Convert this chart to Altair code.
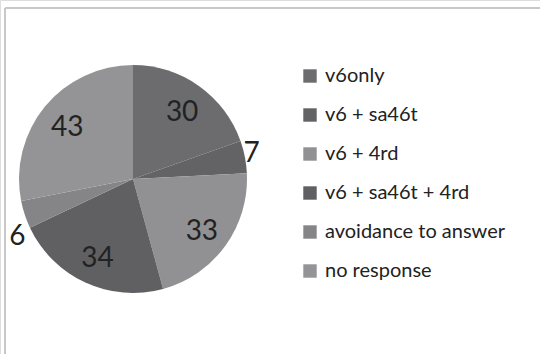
import altair as alt
import pandas as pd

categories = ["v6only", "v6 + sa46t", "v6 + 4rd", "v6 + sa46t + 4rd", "avoidance to answer", "no response"]
values = [30, 7, 33, 34, 6, 43]
colors = ["#6c6c6e", "#636365", "#919193", "#606062", "#858587", "#949496"]
inside = [True, False, True, True, False, True]

df = pd.DataFrame({
    "category": categories,
    "value": values,
    "order": list(range(len(categories))),
    "inside": inside,
    "label": [str(v) for v in values],
})

CX, CY, R = 133, 179, 114
FONT = "Lato"

base = alt.Chart(df).transform_calculate(
    lab_in="datum.inside ? datum.label : ''",
    lab_7="datum.category == 'v6 + sa46t' ? datum.label : ''",
    lab_6="datum.category == 'avoidance to answer' ? datum.label : ''",
).encode(
    theta=alt.Theta("value:Q", stack=True),
    order=alt.Order("order:Q"),
    x=alt.value(CX),
    y=alt.value(CY),
)

color_enc = alt.Color(
    "category:N",
    scale=alt.Scale(domain=categories, range=colors),
    sort=categories,
    legend=alt.Legend(
        title=None,
        orient="none",
        legendX=300,
        legendY=66,
        symbolType="square",
        symbolSize=180,
        symbolStrokeWidth=0,
        labelFont=FONT,
        labelFontSize=20,
        labelColor="#222222",
        labelLimit=400,
        rowPadding=19,
        labelOffset=5,
        symbolOpacity=1,
    ),
)

pie = base.mark_arc(outerRadius=R, stroke=None).encode(color=color_enc)

text_in = base.mark_text(
    radius=85, font=FONT, fontSize=28, color="#222222", dy=3
).encode(text="lab_in:N")

text_7 = base.mark_text(
    radius=122, font=FONT, fontSize=28, color="#222222", dy=-1, dx=-1
).encode(text="lab_7:N")

text_6 = base.mark_text(
    radius=125, font=FONT, fontSize=28, color="#222222", dy=19, dx=3
).encode(text="lab_6:N")

frame = pd.DataFrame({"d": [0]})
left_line = alt.Chart(frame).mark_rule(color="#c8c8c8", strokeWidth=2).encode(
    x=alt.value(5), y=alt.value(8), y2=alt.value(354)
)
top_line = alt.Chart(frame).mark_rule(color="#c8c8c8", strokeWidth=2).encode(
    x=alt.value(5), x2=alt.value(540), y=alt.value(8)
)

chart = alt.layer(pie, text_in, text_7, text_6, left_line, top_line).properties(
    width=540,
    height=354,
    autosize=alt.AutoSizeParams(type="none"),
    padding=0,
).configure_view(stroke=None).configure(background="white")

chart.save("out.html", embed_options={"renderer": "svg", "actions": False})
